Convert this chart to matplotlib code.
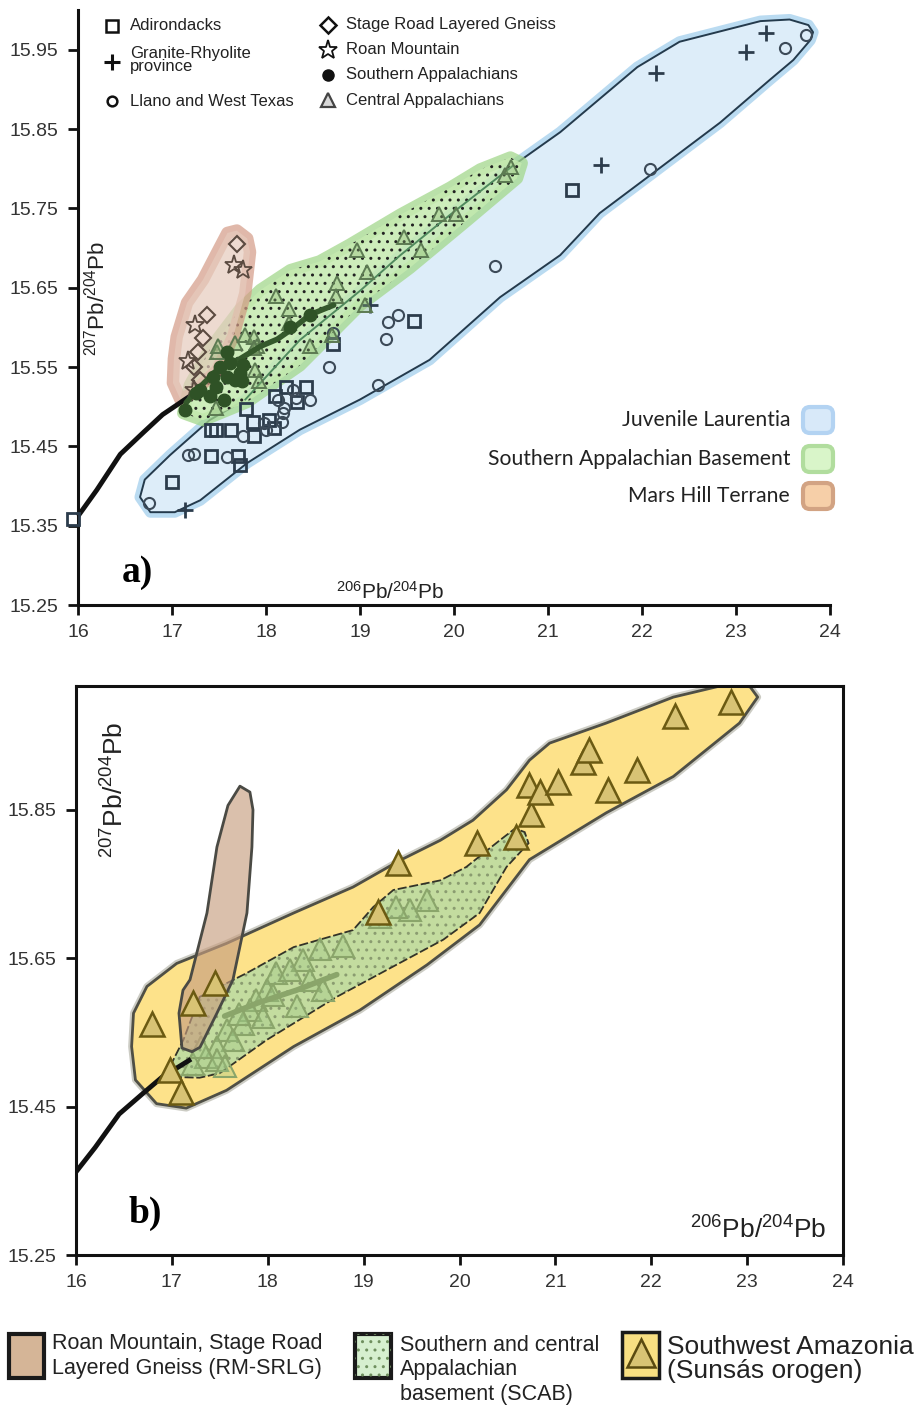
import matplotlib
matplotlib.use('Agg')
import matplotlib.pyplot as plt
from matplotlib.patches import Polygon, FancyBboxPatch, Rectangle
from matplotlib.transforms import IdentityTransform

plt.rcParams['font.family'] = ['Liberation Sans', 'DejaVu Sans']
plt.rcParams['mathtext.default'] = 'regular'
plt.rcParams['hatch.linewidth'] = 1.0

# ---------------- Panel a data ----------------
adk_x = [15.95, 17.0, 17.41, 17.47, 17.63, 17.41, 17.70, 17.72, 17.79, 17.86, 17.87, 18.03,
         18.09, 18.10, 18.21, 18.33, 18.43, 18.71, 19.57, 21.25]
adk_y = [15.358, 15.405, 15.47, 15.47, 15.47, 15.438, 15.438, 15.426, 15.497, 15.481, 15.463,
         15.483, 15.473, 15.513, 15.525, 15.506, 15.525, 15.579, 15.608, 15.773]

llano_x = [16.76, 17.17, 17.23, 17.58, 17.76, 17.98, 18.0, 18.17, 18.18, 18.19, 18.29, 18.13,
           18.32, 18.47, 18.67, 18.71, 19.30, 19.40, 19.28, 19.19, 20.44, 22.08, 23.52, 23.74]
llano_y = [15.379, 15.439, 15.44, 15.437, 15.463, 15.479, 15.47, 15.481, 15.492, 15.498, 15.521,
           15.508, 15.511, 15.508, 15.55, 15.593, 15.607, 15.615, 15.585, 15.527, 15.677,
           15.799, 15.952, 15.968]

gr_x = [17.14, 19.11, 21.56, 22.15, 23.11, 23.32]
gr_y = [15.37, 15.628, 15.804, 15.92, 15.947, 15.971]

srlg_x = [17.69, 17.37, 17.33, 17.28, 17.30, 17.23]
srlg_y = [15.705, 15.616, 15.586, 15.569, 15.534, 15.550]

roan_x = [17.66, 17.75, 17.24, 17.17, 17.23]
roan_y = [15.679, 15.672, 15.603, 15.557, 15.521]

sapp_x = [17.14, 17.55, 17.47, 17.58, 17.72, 17.76, 17.74, 17.58, 17.51, 17.62, 17.44, 17.26,
          17.40, 17.67, 17.30, 18.26, 18.47]
sapp_y = [15.496, 15.509, 15.525, 15.538, 15.542, 15.553, 15.532, 15.569, 15.550, 15.555,
          15.538, 15.517, 15.513, 15.534, 15.521, 15.600, 15.616]

capp_x = [17.47, 17.48, 17.49, 17.67, 17.78, 17.87, 17.90, 17.87, 17.93, 17.88, 18.11, 18.24,
          18.24, 18.47, 18.70, 18.75, 18.74, 18.97, 19.07, 19.05, 19.47, 19.65, 19.84, 20.02,
          20.54, 20.61]
capp_y = [15.498, 15.569, 15.576, 15.58, 15.59, 15.588, 15.576, 15.574, 15.532, 15.546, 15.639,
          15.623, 15.605, 15.576, 15.590, 15.656, 15.639, 15.697, 15.67, 15.628, 15.714, 15.697,
          15.743, 15.743, 15.792, 15.802]

sapp_trend_x = [17.15, 17.3, 17.51, 17.72, 17.94, 18.12, 18.29, 18.47, 18.72]
sapp_trend_y = [15.505, 15.525, 15.550, 15.560, 15.576, 15.585, 15.599, 15.616, 15.628]

growth_x = [16.0, 16.2, 16.45, 16.7, 16.9, 17.1, 17.2]
growth_y = [15.362, 15.395, 15.44, 15.468, 15.49, 15.506, 15.514]

juv_x = [16.66, 16.77, 17.03, 17.30, 17.80, 18.36, 19.00, 19.74, 20.49, 21.13, 21.55, 22.09,
         22.83, 23.36, 23.61, 23.79, 23.82, 23.77, 23.57, 23.26, 22.40, 21.95, 21.13, 20.63,
         19.96, 19.43, 19.00, 18.36, 17.78, 17.40, 16.98, 16.71]
juv_y = [15.386, 15.367, 15.367, 15.382, 15.429, 15.471, 15.509, 15.559, 15.638, 15.691, 15.744,
         15.792, 15.858, 15.912, 15.937, 15.962, 15.972, 15.981, 15.988, 15.986, 15.960, 15.928,
         15.846, 15.804, 15.742, 15.691, 15.646, 15.584, 15.509, 15.483, 15.439, 15.408]

sab_x = [17.12, 17.33, 17.80, 18.36, 19.00, 19.53, 20.14, 20.67, 20.72, 20.60, 20.28, 19.96,
         19.43, 18.89, 18.57, 18.26, 17.94, 17.72, 17.40, 17.19]
sab_y = [15.492, 15.483, 15.506, 15.552, 15.628, 15.675, 15.735, 15.788, 15.807, 15.814, 15.799,
         15.776, 15.742, 15.704, 15.683, 15.672, 15.647, 15.622, 15.572, 15.527]

mh_x = [17.69, 17.80, 17.83, 17.78, 17.65, 17.48, 17.22, 17.09, 17.01, 17.02, 17.05, 17.16,
        17.33, 17.51, 17.59]
mh_y = [15.722, 15.712, 15.695, 15.643, 15.588, 15.546, 15.517, 15.509, 15.530, 15.560, 15.588,
        15.631, 15.660, 15.701, 15.719]

# ---------------- Panel b data ----------------
sw_x = [16.58, 16.62, 16.84, 17.15, 17.57, 18.27, 18.96, 19.66, 20.21, 20.73, 21.53, 22.23,
        22.92, 23.11, 23.03, 22.75, 22.23, 21.53, 20.94, 20.73, 20.49, 20.14, 19.80, 19.38,
        18.89, 18.27, 17.57, 17.05, 16.74, 16.60]
sw_y = [15.531, 15.486, 15.454, 15.448, 15.472, 15.531, 15.580, 15.641, 15.695, 15.783, 15.846,
        15.895, 15.967, 16.002, 16.016, 16.018, 16.002, 15.967, 15.940, 15.917, 15.877, 15.836,
        15.809, 15.782, 15.746, 15.711, 15.670, 15.643, 15.612, 15.576]

scab_x = [17.01, 17.29, 17.50, 17.99, 18.72, 19.31, 19.83, 20.21, 20.49, 20.72, 20.68, 20.58,
          20.42, 20.07, 19.80, 19.31, 19.10, 18.89, 18.27, 17.78, 17.29, 17.12, 16.98]
scab_y = [15.490, 15.489, 15.495, 15.540, 15.598, 15.639, 15.675, 15.711, 15.773, 15.805, 15.820,
          15.825, 15.809, 15.773, 15.755, 15.742, 15.719, 15.688, 15.665, 15.630, 15.598, 15.540,
          15.504]

rm_x = [17.710, 17.814, 17.846, 17.835, 17.783, 17.637, 17.470, 17.293, 17.210, 17.105, 17.074,
        17.116, 17.189, 17.366, 17.470, 17.585]
rm_y = [15.882, 15.874, 15.850, 15.800, 15.711, 15.621, 15.576, 15.530, 15.524, 15.529, 15.576,
        15.607, 15.621, 15.711, 15.800, 15.856]

suns_x = [16.79, 16.98, 17.10, 17.22, 17.45, 19.15, 19.36, 20.18, 20.59, 20.75, 20.73, 20.84,
          21.03, 21.29, 21.35, 21.55, 21.85, 22.25, 22.83]
suns_y = [15.562, 15.499, 15.470, 15.590, 15.616, 15.712, 15.778, 15.805, 15.814, 15.845, 15.883,
          15.874, 15.888, 15.915, 15.931, 15.877, 15.904, 15.976, 15.995]

scabpts_x = [19.66, 19.48, 19.34, 19.17, 18.79, 18.54, 18.37, 18.09, 18.23, 18.44, 18.58, 17.99,
             17.88, 17.81, 17.95, 17.74, 17.57, 17.64, 17.47, 17.36, 17.22, 17.47, 18.30, 18.05,
             17.30, 17.55, 17.70]
scabpts_y = [15.728, 15.715, 15.719, 15.706, 15.666, 15.663, 15.648, 15.630, 15.634, 15.621,
             15.607, 15.607, 15.594, 15.580, 15.571, 15.562, 15.553, 15.540, 15.531, 15.517,
             15.508, 15.513, 15.585, 15.600, 15.530, 15.505, 15.575]

scab_trend_x = [17.55, 17.9, 18.3, 18.72]
scab_trend_y = [15.572, 15.590, 15.607, 15.628]

W, H = 924, 1406
fig = plt.figure(figsize=(W / 100, H / 100), dpi=100)


def P(px, py):
    return (px / W, 1 - py / H)


def D(px, py):
    return (px, H - py)


# ======================= Panel a =======================
ax1 = fig.add_axes([78 / W, 1 - 605 / H, 752 / W, 595 / H])
ax1.set_xlim(16, 24)
ax1.set_ylim(15.25, 16.0)
for s in ['top', 'right']:
    ax1.spines[s].set_visible(False)
for s in ['left', 'bottom']:
    ax1.spines[s].set_linewidth(2.2)
    ax1.spines[s].set_color('#111111')
ax1.set_xticks(range(16, 25))
ax1.set_yticks([15.25, 15.35, 15.45, 15.55, 15.65, 15.75, 15.85, 15.95])
ax1.set_yticklabels(['15.25', '15.35', '15.45', '15.55', '15.65', '15.75', '15.85', '15.95'])
ax1.tick_params(direction='out', length=7, width=2, labelsize=14, pad=7, colors='#111111',
                labelcolor='#333333')

# regions
jv = list(zip(juv_x, juv_y))
ax1.add_patch(Polygon(jv, closed=True, facecolor='none', edgecolor='#a9d2ee', lw=8, alpha=0.8,
                      joinstyle='round', zorder=1))
ax1.add_patch(Polygon(jv, closed=True, facecolor='#ddedf9', edgecolor='#243a4c', lw=1.4,
                      joinstyle='round', zorder=1.1))
sb = list(zip(sab_x, sab_y))
ax1.add_patch(Polygon(sb, closed=True, facecolor='none', edgecolor='#a3d88c', lw=9, alpha=0.75,
                      joinstyle='round', zorder=1.2))
ax1.add_patch(Polygon(sb, closed=True, facecolor='#c5eab0', edgecolor='none', alpha=0.85,
                      zorder=1.3))
ax1.add_patch(Polygon(sb, closed=True, facecolor='none', edgecolor='#222222', lw=0,
                      hatch='..', zorder=1.4))
# outline of juvenile field seen through the green field
ax1.plot([17.78, 18.36, 19.00, 19.43, 19.96, 20.63], [15.509, 15.584, 15.646, 15.691, 15.742, 15.804],
         color='#4f8a5e', lw=1.3, zorder=1.45)
mh = list(zip(mh_x, mh_y))
ax1.add_patch(Polygon(mh, closed=True, facecolor='none', edgecolor='#d49b86', lw=9, alpha=0.7,
                      joinstyle='round', zorder=1.5))
ax1.add_patch(Polygon(mh, closed=True, facecolor='#e6cbbd', edgecolor='none', alpha=0.7,
                      zorder=1.6))

ax1.plot(growth_x, growth_y, color='#111111', lw=3.5, solid_capstyle='butt', zorder=2,
         clip_on=False)

mk = dict(linestyle='none', clip_on=False)
ax1.plot(adk_x, adk_y, marker='s', ms=9, mfc='none', mec='#2c3c4c', mew=2.0, zorder=3, **mk)
ax1.plot(llano_x, llano_y, marker='o', ms=8, mfc='none', mec='#3c4a58', mew=1.5, zorder=3, **mk)
ax1.plot(gr_x, gr_y, marker='+', ms=11, mec='#2c3c4c', mew=2.0, zorder=3, **mk)
ax1.plot(capp_x, capp_y, marker='^', ms=10, mfc=(0.55, 0.72, 0.45, 0.35), mec='#5c7a52',
         mew=1.4, zorder=3, **mk)
ax1.plot(srlg_x, srlg_y, marker='D', ms=8, mfc='none', mec='#5a4a40', mew=1.5, zorder=3, **mk)
ax1.plot(roan_x, roan_y, marker='*', ms=14, mfc='none', mec='#5a4a40', mew=1.3, zorder=3, **mk)
ax1.plot(sapp_trend_x, sapp_trend_y, color='#35592c', lw=4, solid_capstyle='round', zorder=3.5)
ax1.plot(sapp_x, sapp_y, marker='o', ms=9, mfc='#2f5226', mec='#2f5226', zorder=3.6, **mk)

# top-left legend
legL = [('s', 'Adirondacks', 112, 26), ('+', 'Granite-Rhyolite\nprovince', 112, 62),
        ('o', 'Llano and West Texas', 112, 101)]
legR = [('D', 'Stage Road Layered Gneiss', 328, 25), ('*', 'Roan Mountain', 328, 50),
        ('o_f', 'Southern Appalachians', 328, 75), ('^', 'Central Appalachians', 328, 100)]
for m, lab, px, py in legL + legR:
    fx, fy = P(px, py)
    if m == 'o_f':
        fig.lines.append(plt.Line2D([fx], [fy], marker='o', ms=8, mfc='#111111', mec='#111111',
                                    transform=fig.transFigure))
    elif m == '^':
        fig.lines.append(plt.Line2D([fx], [fy], marker='^', ms=10, mfc='#d8d8d8', mec='#444444',
                                    mew=1.6, transform=fig.transFigure))
    elif m == '+':
        fig.lines.append(plt.Line2D([fx], [fy], marker='+', ms=11, mec='#111111', mew=2.2,
                                    transform=fig.transFigure))
    elif m == '*':
        fig.lines.append(plt.Line2D([fx], [fy], marker='*', ms=14, mfc='none', mec='#111111',
                                    mew=1.3, transform=fig.transFigure))
    else:
        ms = {'s': 9, 'o': 7, 'D': 8}[m]
        fig.lines.append(plt.Line2D([fx], [fy], marker=m, ms=ms, mfc='none', mec='#111111',
                                    mew=1.8, transform=fig.transFigure))
    tx, ty = P(px + 18, py - 2 if m == '+' else py)
    fig.text(tx, ty, lab, fontsize=12, va='center', ha='left', color='#222222',
             linespacing=0.8)

# right legend
for lab, py, fc, ec in [('Juvenile Laurentia', 420, '#d8e9f9', '#b3d3f2'),
                        ('Southern Appalachian Basement', 459, '#d9f5c9', '#b1dd9e'),
                        ('Mars Hill Terrane', 496, '#f6cfa8', '#d2a383')]:
    x0, y0 = D(803, py + 13)
    fig.add_artist(FancyBboxPatch((x0, y0), 30, 26, boxstyle='round,pad=0,rounding_size=7',
                                  facecolor=fc, edgecolor=ec, lw=3, transform=IdentityTransform()))
    tx, ty = P(790, py)
    fig.text(tx, ty, lab, fontsize=15.2, family=['Lato', 'DejaVu Sans'], ha='right', va='center',
             color='#222222')

fig.text(*P(97, 298), r'$^{207}$Pb/$^{204}$Pb', rotation=90, fontsize=16, ha='center',
         va='center', color='#222222')
fig.text(*P(390, 592), r'$^{206}$Pb/$^{204}$Pb', fontsize=15, ha='center', va='center',
         color='#222222')
fig.text(*P(137, 572), 'a)', fontsize=27, fontweight='bold',
         family=['Liberation Serif', 'DejaVu Serif'], ha='center', va='center')

# ======================= Panel b =======================
ax2 = fig.add_axes([76 / W, 1 - 1255 / H, 767 / W, 569 / H])
ax2.set_xlim(16, 24)
ax2.set_ylim(15.25, 16.017)
for s in ax2.spines.values():
    s.set_linewidth(2.2)
    s.set_color('#111111')
ax2.set_xticks(range(16, 25))
ax2.set_yticks([15.25, 15.45, 15.65, 15.85])
ax2.set_yticklabels(['15.25', '15.45', '15.65', '15.85'])
ax2.tick_params(direction='out', length=7, width=2, labelsize=14, pad=7, colors='#111111',
                labelcolor='#333333')

sw = list(zip(sw_x, sw_y))
ax2.add_patch(Polygon(sw, closed=True, facecolor='none', edgecolor='#9a9a8a', lw=5, alpha=0.5,
                      joinstyle='round', zorder=1))
ax2.add_patch(Polygon(sw, closed=True, facecolor='#fde28a', edgecolor='#4f4f45', lw=2,
                      joinstyle='round', zorder=1.1))
sc = list(zip(scab_x, scab_y))
ax2.add_patch(Polygon(sc, closed=True, facecolor='#c3dc9f', edgecolor='none', zorder=1.2))
ax2.add_patch(Polygon(sc, closed=True, facecolor='none', edgecolor='#8a9c70', lw=0,
                      hatch='..', zorder=1.3))
ax2.add_patch(Polygon(sc, closed=True, facecolor='none', edgecolor='#333328', lw=1.3,
                      linestyle=(0, (5, 1.5)), zorder=1.4))
ax2.plot(scabpts_x, scabpts_y, linestyle='none', marker='^', ms=16,
         mfc=(0.62, 0.78, 0.52, 0.35), mec='#8aa56a', mew=1.5, zorder=1.5)
ax2.plot(scab_trend_x, scab_trend_y, color='#8aa56a', lw=4, solid_capstyle='round', zorder=1.55)
rm = list(zip(rm_x, rm_y))
ax2.add_patch(Polygon(rm, closed=True, facecolor=(0.78, 0.62, 0.50, 0.65), edgecolor='#4a4a44',
                      lw=2, joinstyle='round', zorder=1.6))
ax2.plot(growth_x, growth_y, color='#111111', lw=3.5, solid_capstyle='butt', zorder=2)
ax2.plot(suns_x, suns_y, linestyle='none', marker='^', ms=17, mfc='#d8c374', mec='#6b5a12',
         mew=1.8, zorder=3)

fig.text(*P(115, 790), r'$^{207}$Pb/$^{204}$Pb', rotation=90, fontsize=19, ha='center',
         va='center', color='#222222')
fig.text(*P(758, 1230), r'$^{206}$Pb/$^{204}$Pb', fontsize=19, ha='center', va='center',
         color='#222222')
fig.text(*P(145, 1213), 'b)', fontsize=27, fontweight='bold',
         family=['Liberation Serif', 'DejaVu Serif'], ha='center', va='center')

# bottom legend
x0, y0 = D(9, 1378)
fig.add_artist(Rectangle((x0, y0), 35, 44, facecolor='#d5b597', edgecolor='#1a1a1a', lw=3,
                         transform=IdentityTransform()))
fig.text(*P(52, 1356), 'Roan Mountain, Stage Road\nLayered Gneiss (RM-SRLG)', fontsize=15.5,
         ha='left', va='center', color='#222222', linespacing=1.2)
x0, y0 = D(355, 1378)
fig.add_artist(Rectangle((x0, y0), 36, 44, facecolor='#d6efcf', edgecolor='#1a1a1a', lw=3,
                         transform=IdentityTransform()))
fig.add_artist(Rectangle((x0, y0), 36, 44, facecolor='none', edgecolor='#6f8f5f', lw=0,
                         hatch='..', transform=IdentityTransform()))
fig.text(*P(400, 1370), 'Southern and central\nAppalachian\nbasement (SCAB)', fontsize=15.5,
         ha='left', va='center', color='#222222', linespacing=1.2)
x0, y0 = D(622, 1378)
fig.add_artist(Rectangle((x0, y0), 37, 46, facecolor='#f8df82', edgecolor='#1a1a1a', lw=2.5,
                         transform=IdentityTransform()))
fig.lines.append(plt.Line2D([P(640.5, 0)[0]], [P(0, 1353)[1]], marker='^', ms=20, mfc='#d8c374',
                            mec='#5a4a10', mew=1.8, transform=fig.transFigure))
fig.text(*P(667, 1359), 'Southwest Amazonia\n(Sunsás orogen)', fontsize=19, ha='left',
         va='center', color='#222222', linespacing=1.05)

fig.savefig('out.png', dpi=100)
